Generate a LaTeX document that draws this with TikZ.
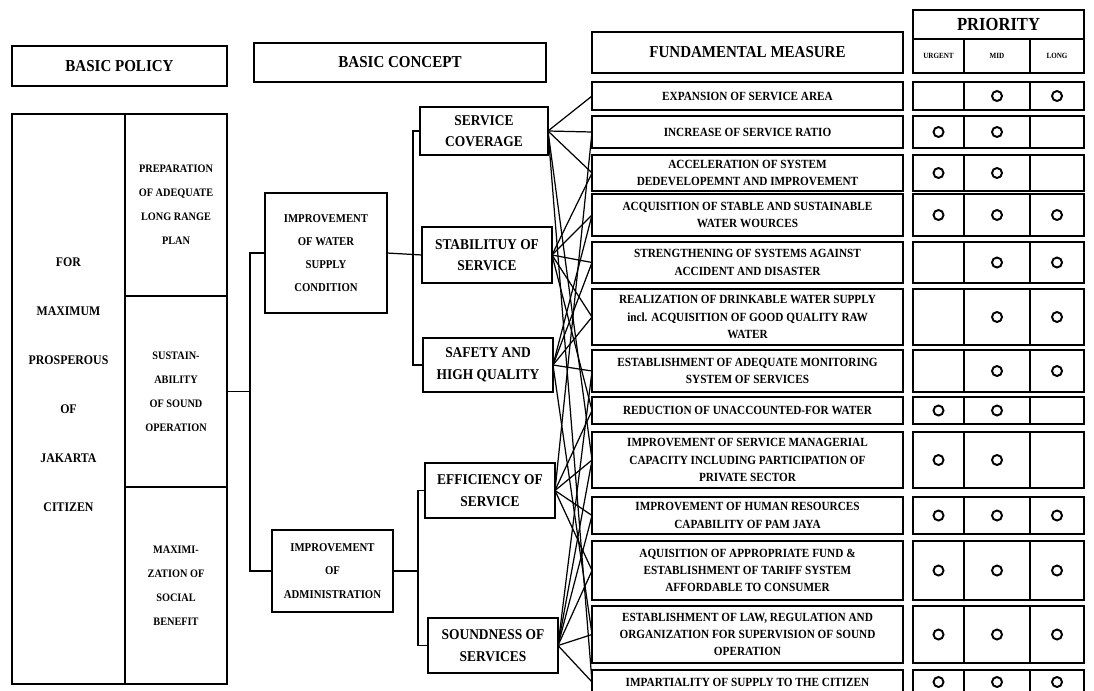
\documentclass[tikz,border=0pt]{standalone}
\usepackage{fontspec}
\setmainfont{Liberation Serif}[FakeStretch=0.9]
\newcommand{\headfont}{\bfseries\fontsize{9.5}{11}\selectfont}
\newcommand{\tinyhead}{\bfseries\fontsize{4.5}{5}\selectfont}
\newcommand{\prifont}{\bfseries\fontsize{10.5}{12}\selectfont}
\newcommand{\polbig}{\bfseries\fontsize{7.5}{27.9}\selectfont}
\newcommand{\polfont}{\bfseries\fontsize{6.5}{13.6}\selectfont}
\newcommand{\impfont}{\bfseries\fontsize{6.8}{13.2}\selectfont}
\newcommand{\concfont}{\bfseries\fontsize{8.5}{12.3}\selectfont}
\newcommand{\measfont}{\bfseries\fontsize{7.1}{9.8}\selectfont}

\begin{document}
\begin{tikzpicture}[x=0.02cm,y=-0.02cm,
  box/.style={draw,line width=1.1pt,inner sep=1pt,outer sep=0pt,align=center},
  head/.style={box,font=\headfont},
  polcell/.style={box,minimum width=2.04cm,font=\polfont},
  conc/.style={box,minimum width=2.6cm,font=\concfont},
  meas/.style={box,minimum width=6.22cm,font=\measfont},
  ucell/.style={box,inner sep=0pt,minimum width=1.02cm},
  mcell/.style={box,inner sep=0pt,minimum width=1.32cm},
  lcell/.style={box,inner sep=0pt,minimum width=1.08cm},
  on/.style={path picture={\draw[line width=1.1pt](path picture bounding box.center) circle (0.1cm);}},
  link/.style={line width=0.7pt}]
\useasboundingbox (0,0) rectangle (1094,690);

% headers
\node[head,minimum width=4.3cm,minimum height=0.8cm] (hpol) at (119.5,66) {BASIC POLICY};
\node[head,minimum width=5.84cm,minimum height=0.78cm] (hcon) at (400,62.5) {BASIC CONCEPT};
\node[head,minimum width=6.22cm,minimum height=0.82cm] (hmea) at (747.5,52.5) {FUNDAMENTAL MEASURE};
\node[box,font=\prifont,minimum width=3.42cm,minimum height=0.58cm] (prio) at (998.5,24.5) {PRIORITY};
\node[ucell,font=\tinyhead,minimum height=0.68cm] (urg) at (938.5,56) {URGENT};
\node[mcell,font=\tinyhead,minimum height=0.68cm] (mid) at (997,56) {MID};
\node[lcell,font=\tinyhead,minimum height=0.68cm] (long) at (1057,56) {LONG};

% basic policy
\node[box,minimum width=2.26cm,minimum height=11.4cm] (pol) at (68.5,399) {};
\node[font=\polbig,align=center] (poltxt) at (68.5,385) {FOR\\MAXIMUM\\PROSPEROUS\\OF\\JAKARTA\\CITIZEN};
\node[polcell,minimum height=3.64cm] (pa) at (176,205) {PREPARATION\\OF ADEQUATE\\LONG RANGE\\PLAN};
\node[polcell,minimum height=3.82cm] (pb) at (176,391.5) {SUSTAIN-\\ABILITY\\OF SOUND\\OPERATION};
\node[polcell,minimum height=3.94cm] (pc) at (176,585.5) {MAXIMI-\\ZATION OF\\SOCIAL\\BENEFIT};

% basic concept
\node[box,font=\impfont,minimum width=2.44cm,minimum height=2.4cm] (water) at (326,253) {IMPROVEMENT\\OF WATER\\SUPPLY\\CONDITION};
\node[box,font=\impfont,minimum width=2.42cm,minimum height=1.64cm] (adm) at (332.5,571) {IMPROVEMENT\\OF\\ADMINISTRATION};
\node[conc,minimum width=2.56cm,minimum height=0.96cm] (cov) at (484,131) {SERVICE\\COVERAGE};
\node[conc,minimum height=1.12cm] (stab) at (487,255) {STABILITUY OF\\SERVICE};
\node[conc,minimum height=1.08cm] (safe) at (488,365) {SAFETY AND\\HIGH QUALITY};
\node[conc,minimum height=1.1cm] (eff) at (490,490.5) {EFFICIENCY OF\\SERVICE};
\node[conc,minimum height=1.1cm] (sound) at (493,645.5) {SOUNDNESS OF\\SERVICES};

% fundamental measures
\node[meas,minimum height=0.56cm] (m1) at (747.5,96) {EXPANSION OF SERVICE AREA};
\node[meas,minimum height=0.64cm] (m2) at (747.5,132) {INCREASE OF SERVICE RATIO};
\node[meas,minimum height=0.72cm] (m3) at (747.5,173) {ACCELERATION OF SYSTEM\\DEDEVELOPEMNT AND IMPROVEMENT};
\node[meas,minimum height=0.84cm] (m4) at (747.5,215) {ACQUISITION OF STABLE AND SUSTAINABLE\\WATER WOURCES};
\node[meas,minimum height=0.82cm] (m5) at (747.5,262.5) {STRENGTHENING OF SYSTEMS AGAINST\\ACCIDENT AND DISASTER};
\node[meas,minimum height=1.12cm] (m6) at (747.5,317) {REALIZATION OF DRINKABLE WATER SUPPLY\\incl. ACQUISITION OF GOOD QUALITY RAW\\WATER};
\node[meas,minimum height=0.84cm] (m7) at (747.5,371) {ESTABLISHMENT OF ADEQUATE MONITORING\\SYSTEM OF SERVICES};
\node[meas,minimum height=0.54cm] (m8) at (747.5,410.5) {REDUCTION OF UNACCOUNTED-FOR WATER};
\node[meas,minimum height=1.12cm] (m9) at (747.5,460) {IMPROVEMENT OF SERVICE MANAGERIAL\\CAPACITY INCLUDING PARTICIPATION OF\\PRIVATE SECTOR};
\node[meas,minimum height=0.74cm] (m10) at (747.5,515.5) {IMPROVEMENT OF HUMAN RESOURCES\\CAPABILITY OF PAM JAYA};
\node[meas,minimum height=1.18cm] (m11) at (747.5,570.5) {AQUISITION OF APPROPRIATE FUND \&\\ESTABLISHMENT OF TARIFF SYSTEM\\AFFORDABLE TO CONSUMER};
\node[meas,minimum height=1.14cm] (m12) at (747.5,634.5) {ESTABLISHMENT OF LAW, REGULATION AND\\ORGANIZATION FOR SUPERVISION OF SOUND\\OPERATION};
\node[meas,minimum height=0.48cm] (m13) at (747.5,682) {IMPARTIALITY OF SUPPLY TO THE CITIZEN};

% priority marks
\node[ucell,minimum height=0.56cm] (u1) at (938.5,96) {};   \node[mcell,on,minimum height=0.56cm] (d1) at (997,96) {};   \node[lcell,on,minimum height=0.56cm] (l1) at (1057,96) {};
\node[ucell,on,minimum height=0.64cm] (u2) at (938.5,132) {}; \node[mcell,on,minimum height=0.64cm] (d2) at (997,132) {};  \node[lcell,minimum height=0.64cm] (l2) at (1057,132) {};
\node[ucell,on,minimum height=0.72cm] (u3) at (938.5,173) {}; \node[mcell,on,minimum height=0.72cm] (d3) at (997,173) {};  \node[lcell,minimum height=0.72cm] (l3) at (1057,173) {};
\node[ucell,on,minimum height=0.84cm] (u4) at (938.5,215) {}; \node[mcell,on,minimum height=0.84cm] (d4) at (997,215) {};  \node[lcell,on,minimum height=0.84cm] (l4) at (1057,215) {};
\node[ucell,minimum height=0.82cm] (u5) at (938.5,262.5) {}; \node[mcell,on,minimum height=0.82cm] (d5) at (997,262.5) {}; \node[lcell,on,minimum height=0.82cm] (l5) at (1057,262.5) {};
\node[ucell,minimum height=1.12cm] (u6) at (938.5,317) {};   \node[mcell,on,minimum height=1.12cm] (d6) at (997,317) {};  \node[lcell,on,minimum height=1.12cm] (l6) at (1057,317) {};
\node[ucell,minimum height=0.84cm] (u7) at (938.5,371) {};   \node[mcell,on,minimum height=0.84cm] (d7) at (997,371) {};  \node[lcell,on,minimum height=0.84cm] (l7) at (1057,371) {};
\node[ucell,on,minimum height=0.54cm] (u8) at (938.5,410.5) {}; \node[mcell,on,minimum height=0.54cm] (d8) at (997,410.5) {}; \node[lcell,minimum height=0.54cm] (l8) at (1057,410.5) {};
\node[ucell,on,minimum height=1.12cm] (u9) at (938.5,460) {}; \node[mcell,on,minimum height=1.12cm] (d9) at (997,460) {};  \node[lcell,minimum height=1.12cm] (l9) at (1057,460) {};
\node[ucell,on,minimum height=0.74cm] (u10) at (938.5,515.5) {}; \node[mcell,on,minimum height=0.74cm] (d10) at (997,515.5) {}; \node[lcell,on,minimum height=0.74cm] (l10) at (1057,515.5) {};
\node[ucell,on,minimum height=1.18cm] (u11) at (938.5,570.5) {}; \node[mcell,on,minimum height=1.18cm] (d11) at (997,570.5) {}; \node[lcell,on,minimum height=1.18cm] (l11) at (1057,570.5) {};
\node[ucell,on,minimum height=1.14cm] (u12) at (938.5,634.5) {}; \node[mcell,on,minimum height=1.14cm] (d12) at (997,634.5) {}; \node[lcell,on,minimum height=1.14cm] (l12) at (1057,634.5) {};
\node[ucell,on,minimum height=0.48cm] (u13) at (938.5,682) {}; \node[mcell,on,minimum height=0.48cm] (d13) at (997,682) {}; \node[lcell,on,minimum height=0.48cm] (l13) at (1057,682) {};

% brackets
\coordinate (b1) at (250,391.5);
\coordinate (b2) at (413,253);
\coordinate (b3) at (418,571);
\draw[link] (pb.east) -- (b1);
\draw[link] (water.west) -- (water.west -| b1) -- (adm.west -| b1) -- (adm.west);
\draw[link] (water.east) -- (stab.west);
\draw[link] (cov.west) -- (cov.west -| b2) -- (safe.west -| b2) -- (safe.west);
\draw[link] (adm.east) -- (b3);
\draw[link] (eff.west) -- (eff.west -| b3) -- (sound.west -| b3) -- (sound.west);

% concept to measure
\foreach \m in {m1,m2,m3,m9,m13} \draw[link] (cov.east) -- (\m.west);
\foreach \m in {m3,m4,m5,m6,m8} \draw[link] (stab.east) -- (\m.west);
\foreach \m in {m4,m5,m6,m7,m12} \draw[link] (safe.east) -- (\m.west);
\foreach \m in {m2,m8,m9,m10,m11} \draw[link] (eff.east) -- (\m.west);
\foreach \m in {m7,m9,m10,m11,m12,m13} \draw[link] (sound.east) -- (\m.west);
\end{tikzpicture}
\end{document}
